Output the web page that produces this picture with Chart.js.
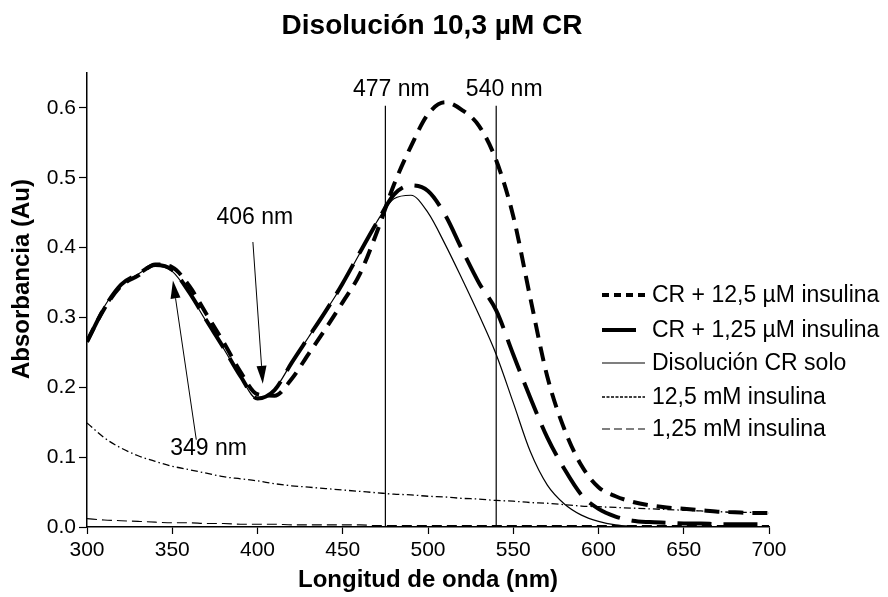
<!DOCTYPE html>
<html>
<head>
<meta charset="utf-8">
<script src="https://cdn.jsdelivr.net/npm/chart.js@4/dist/chart.umd.min.js"></script>
<style>
  body { margin: 0; background: #fff; }
  canvas { display: block; }
</style>
</head>
<body>
<canvas id="spectra" width="888" height="597"></canvas>
<script>
// wavelengths (nm)
const wavelengths = [300, 310, 320, 330, 340, 350, 360, 370, 380, 390, 400, 410, 420, 430, 440, 450, 460, 470, 480, 490,
  500, 510, 520, 530, 540, 550, 560, 570, 580, 590, 600, 610, 620, 630, 640, 650, 660, 670, 680, 690, 700];

// absorbance of each sample
const cr125uM = [0.266, 0.312, 0.345, 0.360, 0.376, 0.372, 0.345, 0.305, 0.265, 0.222, 0.190, 0.188, 0.212, 0.248, 0.284, 0.322, 0.362, 0.422, 0.490, 0.545,
  0.591, 0.608, 0.597, 0.574, 0.525, 0.445, 0.328, 0.215, 0.140, 0.088, 0.057, 0.044, 0.036, 0.031, 0.028, 0.026, 0.024, 0.022, 0.021, 0.020, 0.020];
const cr125nM = [0.265, 0.313, 0.347, 0.362, 0.375, 0.368, 0.336, 0.296, 0.257, 0.216, 0.184, 0.196, 0.235, 0.272, 0.309, 0.349, 0.393, 0.436, 0.476, 0.489,
  0.481, 0.447, 0.397, 0.349, 0.310, 0.247, 0.185, 0.128, 0.083, 0.046, 0.026, 0.015, 0.009, 0.007, 0.006, 0.005, 0.005, 0.004, 0.004, 0.004, 0.004];
const crSolo = [0.266, 0.315, 0.347, 0.362, 0.374, 0.366, 0.334, 0.294, 0.256, 0.215, 0.183, 0.197, 0.235, 0.272, 0.309, 0.348, 0.392, 0.437, 0.470, 0.475,
  0.450, 0.405, 0.355, 0.303, 0.247, 0.178, 0.108, 0.060, 0.033, 0.017, 0.008, 0.003, 0.001, 0, 0, 0, 0, 0, 0, 0, 0];
const insulina125mM = [0.149, 0.128, 0.113, 0.102, 0.094, 0.087, 0.082, 0.077, 0.072, 0.069, 0.066, 0.062, 0.059, 0.057, 0.055, 0.053, 0.051, 0.049, 0.047, 0.046,
  0.044, 0.043, 0.041, 0.040, 0.038, 0.037, 0.035, 0.034, 0.032, 0.030, 0.029, 0.028, 0.027, 0.026, 0.025, 0.024, 0.023, 0.022, 0.021, 0.021, 0.020];
const insulina1_25mM = [0.012, 0.010, 0.009, 0.008, 0.007, 0.006, 0.006, 0.005, 0.005, 0.004, 0.004, 0.004, 0.003, 0.003, 0.003, 0.003, 0.003, 0.002, 0.002, 0.002,
  0.002, 0.002, 0.002, 0.002, 0.002, 0.002, 0.002, 0.002, 0.002, 0.002, 0.002, 0.002, 0.002, 0.002, 0.002, 0.002, 0.002, 0.002, 0.002, 0.002, 0.002];

const seriesNames = ["CR + 12,5 \u00b5M insulina", "CR + 1,25 \u00b5M insulina", "Disoluci\u00f3n CR solo", "12,5 mM insulina", "1,25 mM insulina"];
const yTicks = [0, 0.1, 0.2, 0.3, 0.4, 0.5, 0.6];

// marked wavelengths
const markerLines = [475, 540];
const markerLabels = ["477 nm", "540 nm"];

const font = "'Liberation Sans', Arial, sans-serif";

function toPoints(values) {
  return wavelengths.map((w, i) => ({ x: w, y: values[i] }));
}

const styles = [
  { width: 4, dash: [15, 9] },
  { width: 4, dash: [34, 12] },
  { width: 1.2, dash: [] },
  { width: 1.3, dash: [7, 3, 1.5, 3] },
  { width: 1.1, dash: [10, 5] },
];
const legendDash = [[7, 5], [34, 12], [], [3, 1.5], [8, 4]];

const datasets = [cr125uM, cr125nM, crSolo, insulina125mM, insulina1_25mM].map((vals, i) => ({
  label: seriesNames[i],
  data: toPoints(vals),
  borderColor: "#000",
  borderWidth: styles[i].width,
  borderDash: styles[i].dash,
  pointRadius: 0,
  cubicInterpolationMode: "monotone",
  fill: false,
}));

// text, arrows, marker lines and legend
const extras = {
  id: "extras",
  afterDraw(chart) {
    const ctx = chart.ctx;
    const xs = chart.scales.x, ys = chart.scales.y;
    const px = v => xs.getPixelForValue(v);
    const py = v => ys.getPixelForValue(v);
    ctx.save();
    ctx.fillStyle = "#000";
    ctx.strokeStyle = "#000";

    // title
    ctx.font = "bold 28px " + font;
    ctx.textAlign = "center";
    ctx.textBaseline = "middle";
    ctx.fillText("Disoluci\u00f3n 10,3 \u00b5M CR", 432, 26);

    // axis titles
    ctx.font = "bold 24px " + font;
    ctx.fillText("Longitud de onda (nm)", 428, 580);
    ctx.save();
    ctx.translate(22, 279);
    ctx.rotate(-Math.PI / 2);
    ctx.fillText("Absorbancia (Au)", 0, 0);
    ctx.restore();

    // vertical marker lines
    ctx.lineWidth = 1.2;
    ctx.setLineDash([]);
    ctx.font = "23px " + font;
    markerLines.forEach((w, i) => {
      ctx.beginPath();
      ctx.moveTo(px(w), py(0));
      ctx.lineTo(px(w), py(0.603));
      ctx.stroke();
      ctx.fillText(markerLabels[i], px(w) + (i === 0 ? 6 : 8), py(0.626));
    });

    // arrows
    function arrow(x0, y0, x1, y1) {
      const a = Math.atan2(y1 - y0, x1 - x0);
      const len = 18, half = 5;
      ctx.lineWidth = 1;
      ctx.beginPath();
      ctx.moveTo(x0, y0);
      ctx.lineTo(x1 - len * Math.cos(a), y1 - len * Math.sin(a));
      ctx.stroke();
      ctx.beginPath();
      ctx.moveTo(x1, y1);
      ctx.lineTo(x1 - len * Math.cos(a) + half * Math.sin(a), y1 - len * Math.sin(a) - half * Math.cos(a));
      ctx.lineTo(x1 - len * Math.cos(a) - half * Math.sin(a), y1 - len * Math.sin(a) + half * Math.cos(a));
      ctx.closePath();
      ctx.fill();
    }
    ctx.fillText("406 nm", px(398.4), py(0.4426));
    arrow(px(397.3), py(0.408), px(403.1), py(0.205));
    ctx.fillText("349 nm", px(371.3), py(0.112));
    arrow(px(364.1), py(0.125), px(350.4), py(0.353));

    // legend
    const rowY = [295, 330, 363, 397, 429];
    ctx.textAlign = "left";
    chart.data.datasets.forEach((ds, i) => {
      ctx.lineWidth = ds.borderWidth;
      ctx.setLineDash(legendDash[i]);
      ctx.beginPath();
      ctx.moveTo(602, rowY[i]);
      ctx.lineTo(645, rowY[i]);
      ctx.stroke();
      ctx.setLineDash([]);
      ctx.fillText(ds.label, 652, rowY[i] + 1);
    });
    ctx.restore();
  }
};

new Chart(document.getElementById("spectra"), {
  type: "line",
  data: { datasets },
  options: {
    responsive: false,
    animation: false,
    devicePixelRatio: 1,
    layout: { padding: { top: 73, right: 119, left: 0, bottom: 0 } },
    plugins: { legend: { display: false }, tooltip: { enabled: false } },
    scales: {
      x: {
        type: "linear",
        min: 300,
        max: 700,
        afterFit: s => { s.height = 70; },
        ticks: { stepSize: 50, color: "#000", font: { family: font, size: 21 }, padding: 4, maxRotation: 0 },
        grid: { drawOnChartArea: false, tickLength: 7, color: "#000", tickWidth: 1.2 },
        border: { color: "#000", width: 1.5 }
      },
      y: {
        min: 0,
        max: 0.65,
        afterFit: s => { s.width = 87; },
        afterBuildTicks: s => { s.ticks = yTicks.map(v => ({ value: v })); },
        ticks: { color: "#000", font: { family: font, size: 21 }, padding: 3, callback: v => v.toFixed(1) },
        grid: { drawOnChartArea: false, tickLength: 8, color: "#000", tickWidth: 1.2 },
        border: { color: "#000", width: 1.5 }
      }
    }
  },
  plugins: [extras]
});
</script>
</body>
</html>
